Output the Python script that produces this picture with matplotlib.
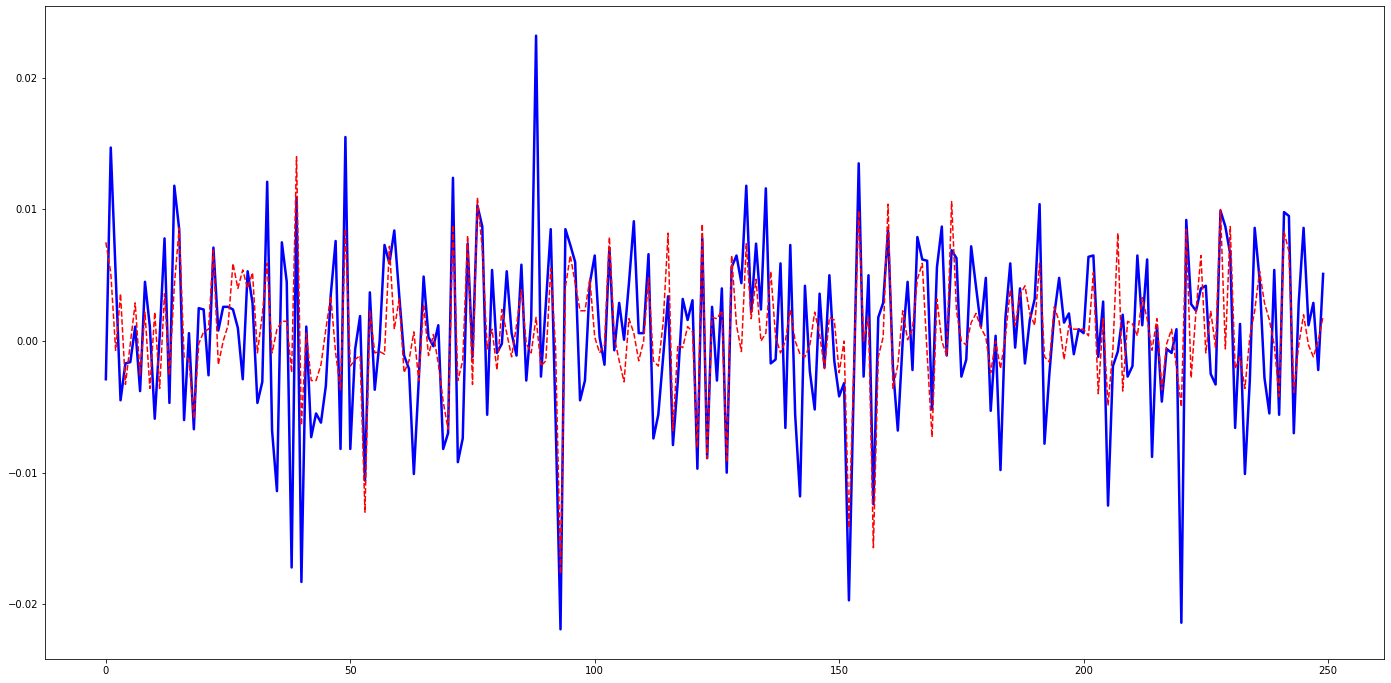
import numpy as np
import matplotlib
matplotlib.use("Agg")
import matplotlib.pyplot as plt

actual = [
    -0.0029, 0.0147, 0.0050, -0.0045, -0.0017, -0.0016, 0.0011, -0.0038, 0.0045, 0.0011,
    -0.0059, 0.0003, 0.0078, -0.0047, 0.0118, 0.0085, -0.0060, 0.0006, -0.0067, 0.0025,
    0.0024, -0.0026, 0.0071, 0.0008, 0.0026, 0.0026, 0.0024, 0.0010, -0.0029, 0.0053,
    0.0029, -0.0047, -0.0031, 0.0121, -0.0068, -0.0114, 0.0075, 0.0045, -0.0172, 0.0109,
    -0.0183, 0.0011, -0.0073, -0.0055, -0.0062, -0.0034, 0.0035, 0.0076, -0.0082, 0.0155,
    -0.0082, -0.0006, 0.0019, -0.0106, 0.0037, -0.0037, 0.0000, 0.0073, 0.0059, 0.0084,
    0.0035, -0.0011, -0.0021, -0.0101, -0.0030, 0.0049, 0.0003, -0.0004, 0.0012, -0.0082,
    -0.0070, 0.0124, -0.0092, -0.0074, 0.0074, -0.0012, 0.0103, 0.0087, -0.0056, 0.0054,
    -0.0009, -0.0002, 0.0053, 0.0006, -0.0011, 0.0058, -0.0030, 0.0016, 0.0232, -0.0027,
    0.0028, 0.0085, -0.0060, -0.0219, 0.0085, 0.0073, 0.0060, -0.0045, -0.0030, 0.0044,
    0.0065, 0.0003, -0.0018, 0.0071, -0.0007, 0.0029, 0.0001, 0.0044, 0.0091, 0.0006,
    0.0006, 0.0066, -0.0074, -0.0056, -0.0012, 0.0034, -0.0079, -0.0030, 0.0032, 0.0016,
    0.0031, -0.0097, 0.0078, -0.0089, 0.0026, -0.0030, 0.0040, -0.0100, 0.0056, 0.0065,
    0.0044, 0.0118, 0.0022, 0.0074, 0.0024, 0.0116, -0.0017, -0.0014, 0.0059, -0.0066,
    0.0073, -0.0056, -0.0118, 0.0042, -0.0023, -0.0052, 0.0036, -0.0020, 0.0050, -0.0015,
    -0.0042, -0.0032, -0.0197, -0.0031, 0.0135, -0.0027, 0.0050, -0.0124, 0.0018, 0.0029,
    0.0084, -0.0020, -0.0068, 0.0000, 0.0045, -0.0022, 0.0079, 0.0062, 0.0061, -0.0052,
    0.0056, 0.0087, -0.0011, 0.0069, 0.0063, -0.0027, -0.0014, 0.0072, 0.0041, 0.0011,
    0.0048, -0.0053, 0.0004, -0.0098, 0.0017, 0.0059, -0.0005, 0.0040, -0.0017, 0.0016,
    0.0032, 0.0104, -0.0078, -0.0025, 0.0020, 0.0048, 0.0014, 0.0021, -0.0010, 0.0009,
    0.0006, 0.0064, 0.0065, -0.0012, 0.0030, -0.0125, -0.0019, -0.0008, 0.0020, -0.0027,
    -0.0019, 0.0065, 0.0012, 0.0062, -0.0088, 0.0012, -0.0046, -0.0006, -0.0009, 0.0009,
    -0.0214, 0.0092, 0.0028, 0.0023, 0.0040, 0.0042, -0.0025, -0.0033, 0.0099, 0.0087,
    0.0066, -0.0066, 0.0013, -0.0101, -0.0030, 0.0086, 0.0047, -0.0028, -0.0055, 0.0054,
    -0.0056, 0.0098, 0.0095, -0.0070, 0.0029, 0.0086, 0.0012, 0.0029, -0.0022, 0.0051,
]

predicted = [
    0.0075, 0.0052, -0.0007, 0.0036, -0.0033, -0.0002, 0.0029, -0.0026, 0.0022, -0.0036,
    0.0022, -0.0036, 0.0036, -0.0026, 0.0042, 0.0086, -0.0012, -0.0014, -0.0059, -0.0002,
    0.0007, 0.0009, 0.0069, -0.0018, 0.0000, 0.0012, 0.0059, 0.0040, 0.0054, 0.0040,
    0.0052, -0.0009, 0.0020, 0.0059, -0.0009, 0.0009, 0.0015, 0.0015, -0.0024, 0.0140,
    -0.0064, 0.0006, -0.0030, -0.0030, -0.0018, 0.0009, 0.0034, -0.0009, -0.0037, 0.0085,
    -0.0019, -0.0014, -0.0011, -0.0130, 0.0023, -0.0009, -0.0008, -0.0010, 0.0072, 0.0009,
    0.0032, -0.0024, -0.0015, 0.0007, -0.0030, 0.0028, -0.0011, 0.0005, -0.0017, -0.0046,
    -0.0067, 0.0088, -0.0030, -0.0015, 0.0080, -0.0033, 0.0109, 0.0070, -0.0006, 0.0009,
    -0.0022, 0.0024, 0.0006, -0.0012, 0.0012, 0.0039, -0.0002, -0.0009, 0.0018, -0.0019,
    -0.0015, 0.0055, -0.0006, -0.0177, 0.0041, 0.0065, 0.0044, 0.0023, 0.0023, 0.0047,
    0.0003, -0.0009, -0.0003, 0.0079, 0.0003, -0.0015, -0.0031, 0.0017, 0.0006, -0.0015,
    0.0000, 0.0048, -0.0015, -0.0019, 0.0014, 0.0082, -0.0068, -0.0003, -0.0005, 0.0011,
    0.0007, -0.0081, 0.0089, -0.0089, 0.0018, 0.0017, 0.0023, -0.0092, 0.0065, 0.0012,
    -0.0008, 0.0074, 0.0017, 0.0047, 0.0000, 0.0006, 0.0053, 0.0003, -0.0009, 0.0000,
    0.0024, 0.0000, -0.0010, -0.0012, -0.0003, 0.0022, 0.0005, -0.0021, 0.0018, 0.0016,
    -0.0024, 0.0000, -0.0142, -0.0021, 0.0099, 0.0000, 0.0018, -0.0157, -0.0012, 0.0003,
    0.0104, -0.0036, -0.0018, 0.0023, 0.0001, 0.0009, 0.0047, 0.0059, -0.0010, -0.0073,
    0.0032, 0.0000, -0.0011, 0.0106, 0.0023, 0.0000, -0.0003, 0.0014, 0.0021, 0.0010,
    0.0003, -0.0024, 0.0000, -0.0021, 0.0003, 0.0039, 0.0012, 0.0035, 0.0042, 0.0021,
    0.0012, 0.0059, -0.0012, -0.0016, 0.0026, 0.0015, -0.0014, 0.0012, 0.0009, 0.0009,
    0.0009, 0.0004, 0.0052, -0.0040, 0.0017, -0.0049, -0.0006, 0.0082, -0.0038, 0.0015,
    0.0013, 0.0004, 0.0033, 0.0017, -0.0007, 0.0017, -0.0037, -0.0002, 0.0009, -0.0020,
    -0.0050, 0.0085, -0.0028, 0.0023, 0.0065, -0.0009, 0.0023, -0.0005, 0.0100, -0.0006,
    0.0087, -0.0021, -0.0012, -0.0036, 0.0003, 0.0023, 0.0053, 0.0029, 0.0016, -0.0003,
    -0.0042, 0.0083, 0.0068, -0.0039, -0.0003, 0.0020, -0.0003, -0.0012, 0.0000, 0.0019,
]

x = np.arange(len(actual))

W, H = 1391, 683
fig = plt.figure(figsize=(W / 72, H / 72), dpi=72)
ax = fig.add_axes([45 / W, (H - 659) / H, (1384 - 45) / W, (659 - 6) / H])
ax.plot(x, actual, color="blue", linewidth=2.5)
ax.plot(x, predicted, color="red", linestyle="--", linewidth=1.5)
ax.tick_params(labelsize=10)
fig.savefig("out.png", dpi=72)
